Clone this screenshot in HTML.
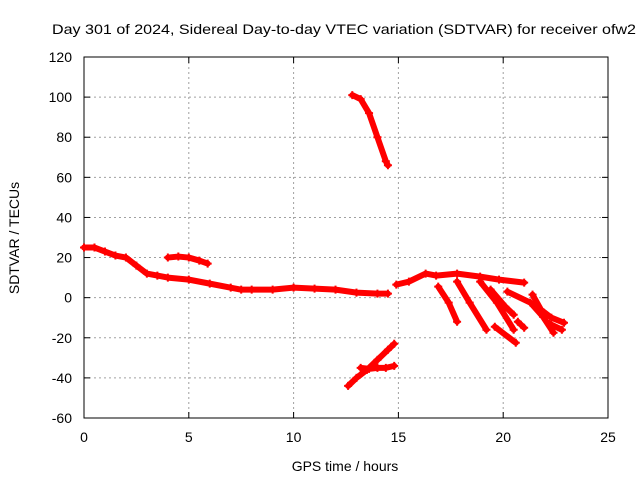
<!DOCTYPE html>
<html><head><meta charset="utf-8"><style>
body{margin:0;background:#fff}
svg{display:block;font-family:"Liberation Sans",sans-serif}
</style></head><body>
<svg id="c" width="640" height="480" xmlns="http://www.w3.org/2000/svg">
<rect width="640" height="480" fill="#fff"/>
<text x="52" y="34" font-size="14" textLength="584" lengthAdjust="spacingAndGlyphs">Day 301 of 2024, Sidereal Day-to-day VTEC variation (SDTVAR) for receiver ofw2</text>
<g id="grid"></g>
<g id="axes"></g>
<g id="series"></g>
<text x="345" y="471" font-size="14" text-anchor="middle">GPS time / hours</text>
<text x="19" y="238" font-size="14" text-anchor="middle" transform="rotate(-90 19 238)">SDTVAR / TECUs</text>
</svg>
<script>
const xTicks=[0,5,10,15,20,25];
const yTicks=[-60,-40,-20,0,20,40,60,80,100,120];
const trackMain=[[0,25],[0.5,25],[1,23],[1.5,21],[2,20],[2.5,16],[3,12],[3.5,11],[4,10],[5,9],[6,7],[7,5],[7.5,4],[8,4],[9,4],[10,5],[11,4.5],[12,4],[13,2.5],[14,2],[14.5,2]];
const trackA=[[4,20],[4.5,20.5],[5,20],[5.5,18.5],[5.9,17]];
const trackHigh=[[12.8,101],[13.2,99],[13.6,92],[14,80],[14.4,68],[14.5,66]];
const trackLow=[[12.6,-44],[13,-40],[13.5,-36],[14,-31],[14.5,-26],[14.8,-23]];
const trackFlat=[[13.2,-35],[13.6,-35.5],[14,-35],[14.4,-35],[14.8,-34]];
const trackLate=[[14.9,6.5],[15.5,8],[16.3,12],[16.8,11],[17.8,12],[18.9,10.5],[19.8,9],[21,7.5]];
const branch1=[[16.9,5.5],[17.4,-2.5],[17.8,-12]];
const branch2=[[17.8,8],[18.4,-2.5],[19.2,-16]];
const branch3=[[18.9,8],[19.7,-2.5],[20.5,-16]];
const branch4=[[19.4,4],[20.1,-4.5],[20.5,-8.5]];
const branch5=[[19.6,-14.5],[20.6,-22.5]];
const branch6=[[20.7,-12],[21,-15]];
const branch7=[[20.2,3],[21.3,-2.5],[21.9,-9.5],[22.4,-17.5]];
const branch8=[[21.4,1.5],[21.8,-6],[22.3,-10],[22.9,-12.5]];
const branch9=[[22.2,-13],[22.8,-16]];
const tracks=[trackMain,trackA,trackHigh,trackLow,trackFlat,trackLate,branch1,branch2,branch3,branch4,branch5,branch6,branch7,branch8,branch9];
const X0=84,X1=608,Y0=418,Y1=57;
const sx=v=>X0+(v-0)/(25-0)*(X1-X0);
const sy=v=>Y0-(v+60)/(180)*(Y0-Y1);
const NS="http://www.w3.org/2000/svg";
function mk(t,a,p){const e=document.createElementNS(NS,t);for(const k in a)e.setAttribute(k,a[k]);p.appendChild(e);return e;}
const grid=document.getElementById('grid'),axes=document.getElementById('axes'),ser=document.getElementById('series');
xTicks.forEach(v=>{const x=sx(v);
 if(v>0&&v<25){const l=mk('line',{x1:x,y1:Y1,x2:x,y2:Y0,stroke:'#a0a0a0','stroke-dasharray':'2,3','stroke-width':1},grid);}
 mk('line',{x1:x,y1:Y0,x2:x,y2:Y0-6,stroke:'#000'},axes);mk('line',{x1:x,y1:Y1,x2:x,y2:Y1+6,stroke:'#000'},axes);
 const t=mk('text',{x:x,y:Y0+24,'font-size':14,'text-anchor':'middle'},axes);t.textContent=v;
 });
yTicks.forEach(v=>{const y=sy(v);
 if(v>-60&&v<120){const l=mk('line',{x1:X0,y1:y,x2:X1,y2:y,stroke:'#a0a0a0','stroke-dasharray':'2,3','stroke-width':1},grid);}
 mk('line',{x1:X0,y1:y,x2:X0+6,y2:y,stroke:'#000'},axes);mk('line',{x1:X1,y1:y,x2:X1-6,y2:y,stroke:'#000'},axes);
 const t=mk('text',{x:X0-12,y:y+5,'font-size':14,'text-anchor':'end'},axes);t.textContent=v;
 });
const fr=mk('rect',{x:X0,y:Y1,width:X1-X0,height:Y0-Y1,fill:'none',stroke:'#000'},axes);

tracks.forEach(tr=>{
 const pl=mk('polyline',{points:tr.map(p=>sx(p[0])+','+sy(p[1])).join(' '),fill:'none',stroke:'#f00','stroke-width':6,'stroke-linejoin':'round','stroke-linecap':'round'},ser);
 
 tr.forEach(p=>{const x=sx(p[0]),y=sy(p[1]);
  const m=mk('path',{d:`M${x-4},${y}h8M${x},${y-4}v8`,stroke:'#f00','stroke-width':2},ser);
  });
});
</script>
</body></html>
